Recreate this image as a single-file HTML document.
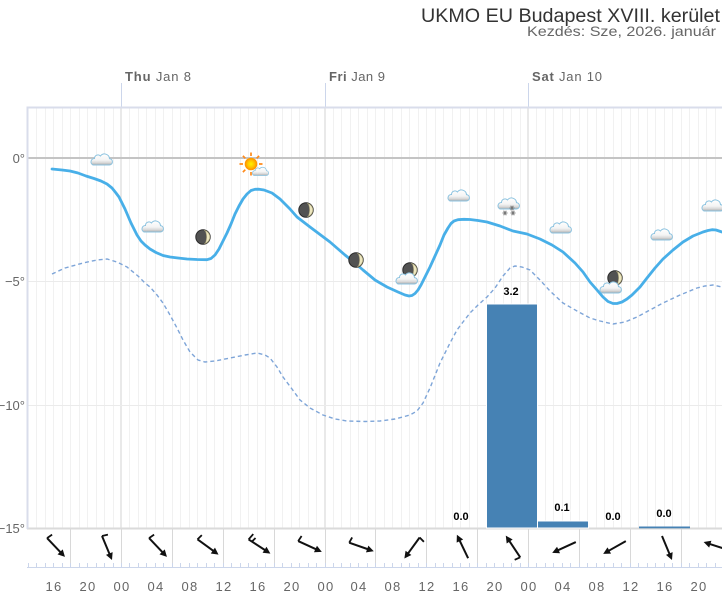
<!DOCTYPE html>
<html><head><meta charset="utf-8"><style>
html,body{margin:0;padding:0;background:#fff;}
svg{display:block;font-family:"Liberation Sans",Arial,sans-serif;}
</style></head><body>
<svg width="722" height="600" viewBox="0 0 722 600" xmlns="http://www.w3.org/2000/svg">
<defs>
<linearGradient id="cg" x1="0" y1="0" x2="0" y2="1">
<stop offset="0" stop-color="#ffffff"/><stop offset="0.55" stop-color="#f4f4f4"/><stop offset="0.8" stop-color="#d8d8d8"/><stop offset="1" stop-color="#a9a9a9"/>
</linearGradient>
<radialGradient id="sg"><stop offset="0" stop-color="#fff200"/><stop offset="0.6" stop-color="#ffc000"/><stop offset="1" stop-color="#ff8a00"/></radialGradient>
<g id="cloud"><path d="M-8,6 H8 A3.2,3.2 0 0 0 8.5,-0.4 A5,5 0 0 0 -0.5,-3 A3.5,3.5 0 0 0 -6.5,-0.5 A3.4,3.4 0 0 0 -8,6 Z" fill="url(#cg)" stroke="#8cc3e0" stroke-width="1"/></g>
<g id="moon"><circle r="7.2" fill="#525252" stroke="#2a2a2a" stroke-width="1"/><path d="M1.2,-6.7 A6.8,6.8 0 0 1 1.2,6.7 A2.4,6.7 0 0 0 1.2,-6.7 Z" fill="#ede7c0" stroke="#a59e76" stroke-width="0.6"/></g>
<g id="arr"><line x1="-13" y1="0" x2="8" y2="0" stroke="#111" stroke-width="2"/><polygon points="13,0 6,-3.6 6,3.6" fill="#111"/><line x1="-13" y1="0" x2="-12" y2="-6" stroke="#111" stroke-width="1.8"/></g>
<g id="arr0"><line x1="-13" y1="0" x2="8" y2="0" stroke="#111" stroke-width="2"/><polygon points="13,0 6,-3.6 6,3.6" fill="#111"/></g>
<g id="arr2"><line x1="-13" y1="0" x2="8" y2="0" stroke="#111" stroke-width="2"/><polygon points="13,0 6,-3.6 6,3.6" fill="#111"/><line x1="-13" y1="0" x2="-12" y2="-7" stroke="#111" stroke-width="1.8"/><line x1="-9" y1="0" x2="-8" y2="-5" stroke="#111" stroke-width="1.8"/></g>
<g id="flake"><path d="M-2.5,0 H2.5 M-1.3,-2.2 L1.3,2.2 M-1.3,2.2 L1.3,-2.2" stroke="#777" stroke-width="1"/></g>
</defs>

<!-- titles -->
<text x="720" y="22" text-anchor="end" font-size="19" fill="#333" textLength="299" lengthAdjust="spacingAndGlyphs">UKMO EU Budapest XVIII. kerület</text>
<text x="716" y="36" text-anchor="end" font-size="14" fill="#666" textLength="189" lengthAdjust="spacingAndGlyphs">Kezdés: Sze, 2026. január</text>

<!-- day labels -->
<text x="125" y="81" font-size="13" fill="#666" textLength="66" lengthAdjust="spacing"><tspan font-weight="bold">Thu</tspan> Jan 8</text>
<text x="329" y="81" font-size="13" fill="#666" textLength="56" lengthAdjust="spacing"><tspan font-weight="bold">Fri</tspan> Jan 9</text>
<text x="532" y="81" font-size="13" fill="#666" textLength="70" lengthAdjust="spacing"><tspan font-weight="bold">Sat</tspan> Jan 10</text>
<path d="M121.5,83 V107 M325.5,83 V107 M528.5,83 V107" stroke="#ccd6eb" stroke-width="1"/>

<!-- hourly grid -->
<path d="M36.5,108V528M45.5,108V528M53.5,108V528M62.5,108V528M70.5,108V528M79.5,108V528M87.5,108V528M96.5,108V528M104.5,108V528M113.5,108V528M129.5,108V528M138.5,108V528M146.5,108V528M155.5,108V528M163.5,108V528M172.5,108V528M180.5,108V528M189.5,108V528M197.5,108V528M206.5,108V528M214.5,108V528M223.5,108V528M231.5,108V528M240.5,108V528M248.5,108V528M257.5,108V528M265.5,108V528M274.5,108V528M282.5,108V528M291.5,108V528M299.5,108V528M308.5,108V528M316.5,108V528M333.5,108V528M341.5,108V528M350.5,108V528M358.5,108V528M367.5,108V528M375.5,108V528M384.5,108V528M392.5,108V528M401.5,108V528M409.5,108V528M418.5,108V528M426.5,108V528M435.5,108V528M443.5,108V528M452.5,108V528M460.5,108V528M469.5,108V528M477.5,108V528M486.5,108V528M494.5,108V528M503.5,108V528M511.5,108V528M520.5,108V528M536.5,108V528M545.5,108V528M553.5,108V528M562.5,108V528M570.5,108V528M579.5,108V528M587.5,108V528M596.5,108V528M604.5,108V528M613.5,108V528M621.5,108V528M630.5,108V528M638.5,108V528M647.5,108V528M655.5,108V528M664.5,108V528M672.5,108V528M681.5,108V528M689.5,108V528M698.5,108V528M706.5,108V528M715.5,108V528" stroke="#f1f1f1" stroke-width="1"/>
<path d="M121,108V528M325,108V528M528,108V528" stroke="#e2e2e2" stroke-width="1.5"/>
<!-- horizontal grid -->
<path d="M27,281.5H722M27,405.5H722" stroke="#ebebeb" stroke-width="1"/>
<path d="M27,158H722" stroke="#c4c4c4" stroke-width="2"/>
<path d="M27,528.5H722" stroke="#dadada" stroke-width="2"/>
<!-- plot border -->
<path d="M722,107.5H27.5V529" stroke="#d9ddeb" stroke-width="2" fill="none"/>

<!-- y labels -->
<g font-size="13" fill="#666" text-anchor="end">
<text x="25" y="163">0°</text>
<text x="25" y="286">−5°</text>
<text x="25" y="410">−10°</text>
<text x="25" y="533">−15°</text>
</g>

<!-- bars -->
<rect x="486.5" y="304" width="51" height="224" fill="#4682b4" stroke="#fff" stroke-width="1"/>
<rect x="537.5" y="521" width="51" height="7" fill="#4682b4" stroke="#fff" stroke-width="1"/>
<rect x="639" y="526.5" width="51" height="1.8" fill="#4682b4"/>
<g font-size="11" font-weight="bold" fill="#000" text-anchor="middle" stroke="#fff" stroke-width="2" paint-order="stroke">
<text x="511" y="295">3.2</text>
<text x="461" y="520">0.0</text>
<text x="562" y="511">0.1</text>
<text x="613" y="520">0.0</text>
<text x="664" y="517">0.0</text>
</g>

<!-- dashed line -->
<polyline fill="none" stroke="#7ea5d8" stroke-width="1.4" stroke-dasharray="4,3" points="52,274 65,268 83,263 97,260 107,259 117,262 127,267 138,276 145,283 150,287 157,295 163,303 170,315 177,328 183,340 190,352 198,360 205,362 215,361 230,358 245,355 257,353 265,355 270,358 277,367 283,377 292,389 300,400 310,408 323,415 335,419 347,421 365,421.5 380,421 395,419 410,415 417,411 423,403 430,388 440,363 450,343 457,330 463,322 470,313 478,305 487,297 495,288 503,276 510,268 515,266 522,267 530,270 540,280 550,291 563,303 577,311 590,318 600,321 613,324 625,322 637,317 650,310 663,303 680,295 697,288 705,286 713,285 722,287"/>

<!-- temperature line -->
<polyline fill="none" stroke="#48afe8" stroke-width="2.8" stroke-linejoin="round" stroke-linecap="round" points="52,169 62,170 70,171 78,173 86,176 94,178.5 101,181 107,184 112,188 116,193 119,197 122,203 125,209 128,216 131,223 134,229 137,235 141,241 145,245 150,249 156,252.5 163,255.5 170,257 178,258 187,259 197,259.5 207,259.7 211,258.5 215,255 219,249 223,241 227,233 231,224 235,214 239,206 243,199 247,194 251,190.5 255,189.3 259,189.2 264,190 272,193 280,199 290,209 297,217 310,227 330,242 345,255 355,263 363,270 375,280 387,287 398,292 405,295 409,296 412,295.5 415,293.5 418,290 421,285 425,277 430,267 435,256 440,245 444,235 448,228 451,223.5 454,221 458,219.7 464,219.3 470,219.5 478,220.5 487,222 500,226 513,231 527,234 540,239 552,245 563,252 575,263 583,272 590,282 597,290 603,297 608,301.5 613,303.5 617,303.5 622,302 627,299 632,295 640,287 647,278 655,268 663,259 673,250 683,242 693,236 703,232 708,230.5 712,229.7 716,230 722,232"/>

<!-- weather icons -->
<use href="#cloud" x="101" y="159"/>
<use href="#cloud" x="152" y="226"/>
<use href="#moon" x="203" y="237"/>
<g transform="translate(251,164)">
<path d="M0,-8V-11.5M0,8V11.5M-8,0H-11.5M8,0H11.5M5.7,5.7L8.1,8.1M-5.7,-5.7L-8.1,-8.1M5.7,-5.7L8.1,-8.1M-5.7,5.7L-8.1,8.1" stroke="#ff8a1a" stroke-width="1.7"/>
<circle r="6" fill="url(#sg)" stroke="#ff9a00" stroke-width="0.6"/>
</g>
<g transform="translate(260,171) scale(0.75)"><use href="#cloud"/></g>
<use href="#moon" x="306" y="210"/>
<use href="#moon" x="356" y="260"/>
<use href="#moon" x="410" y="270"/>
<use href="#cloud" x="406" y="278"/>
<use href="#cloud" x="458" y="195"/>
<use href="#cloud" x="508" y="203"/>
<use href="#flake" x="505" y="213"/>
<use href="#flake" x="513" y="213"/>
<use href="#flake" x="512" y="208"/>
<use href="#cloud" x="560" y="227"/>
<use href="#moon" x="615" y="278"/>
<use href="#cloud" x="610" y="287"/>
<use href="#cloud" x="661" y="234"/>
<use href="#cloud" x="712" y="205"/>

<!-- wind row separators -->
<path d="M70.5,529V566M121.5,529V566M172.5,529V566M223.5,529V566M274.5,529V566M325.5,529V566M375.5,529V566M426.5,529V566M477.5,529V566M528.5,529V566M579.5,529V566M630.5,529V566M681.5,529V566" stroke="#d8d8d8" stroke-width="1"/>

<!-- wind arrows -->
<use href="#arr" transform="translate(56,547.5) rotate(46.5)"/>
<use href="#arr" transform="translate(107,548) rotate(67.4)"/>
<use href="#arr" transform="translate(158,547.5) rotate(46.5)"/>
<use href="#arr" transform="translate(208,547) rotate(36)"/>
<use href="#arr2" transform="translate(259.5,546.5) rotate(33)"/>
<use href="#arr" transform="translate(310,546.5) rotate(24.6)"/>
<use href="#arr" transform="translate(361.5,547) rotate(19.2)"/>
<use href="#arr" transform="translate(412,548) rotate(126)"/>
<use href="#arr0" transform="translate(462.5,546.5) rotate(-115.6)"/>
<use href="#arr" transform="translate(513,546.5) rotate(-123.7)"/>
<use href="#arr0" transform="translate(564,547.5) rotate(155.4)"/>
<use href="#arr0" transform="translate(614.5,547.5) rotate(150.5)"/>
<use href="#arr0" transform="translate(667,548) rotate(67.4)"/>
<use href="#arr0" transform="translate(716,546) rotate(-162)"/>

<!-- bottom axis -->
<path d="M27,567.5H722" stroke="#ccd6eb" stroke-width="1"/>
<path d="M28.5,563V567M36.5,563V567M45.5,563V567M53.5,563V567M62.5,563V567M70.5,563V567M79.5,563V567M87.5,563V567M96.5,563V567M104.5,563V567M113.5,563V567M121.5,563V567M129.5,563V567M138.5,563V567M146.5,563V567M155.5,563V567M163.5,563V567M172.5,563V567M180.5,563V567M189.5,563V567M197.5,563V567M206.5,563V567M214.5,563V567M223.5,563V567M231.5,563V567M240.5,563V567M248.5,563V567M257.5,563V567M265.5,563V567M274.5,563V567M282.5,563V567M291.5,563V567M299.5,563V567M308.5,563V567M316.5,563V567M325.5,563V567M333.5,563V567M341.5,563V567M350.5,563V567M358.5,563V567M367.5,563V567M375.5,563V567M384.5,563V567M392.5,563V567M401.5,563V567M409.5,563V567M418.5,563V567M426.5,563V567M435.5,563V567M443.5,563V567M452.5,563V567M460.5,563V567M469.5,563V567M477.5,563V567M486.5,563V567M494.5,563V567M503.5,563V567M511.5,563V567M520.5,563V567M528.5,563V567M536.5,563V567M545.5,563V567M553.5,563V567M562.5,563V567M570.5,563V567M579.5,563V567M587.5,563V567M596.5,563V567M604.5,563V567M613.5,563V567M621.5,563V567M630.5,563V567M638.5,563V567M647.5,563V567M655.5,563V567M664.5,563V567M672.5,563V567M681.5,563V567M689.5,563V567M698.5,563V567M706.5,563V567M715.5,563V567" stroke="#ccd6eb" stroke-width="1"/>

<!-- hour labels -->
<g font-size="13" fill="#666" text-anchor="middle" letter-spacing="1.3">
<text x="54" y="591">16</text>
<text x="88" y="591">20</text>
<text x="122" y="591">00</text>
<text x="156" y="591">04</text>
<text x="190" y="591">08</text>
<text x="224" y="591">12</text>
<text x="258" y="591">16</text>
<text x="292" y="591">20</text>
<text x="326" y="591">00</text>
<text x="359" y="591">04</text>
<text x="393" y="591">08</text>
<text x="427" y="591">12</text>
<text x="461" y="591">16</text>
<text x="495" y="591">20</text>
<text x="529" y="591">00</text>
<text x="563" y="591">04</text>
<text x="597" y="591">08</text>
<text x="631" y="591">12</text>
<text x="665" y="591">16</text>
<text x="699" y="591">20</text>
</g>
</svg>
</body></html>
